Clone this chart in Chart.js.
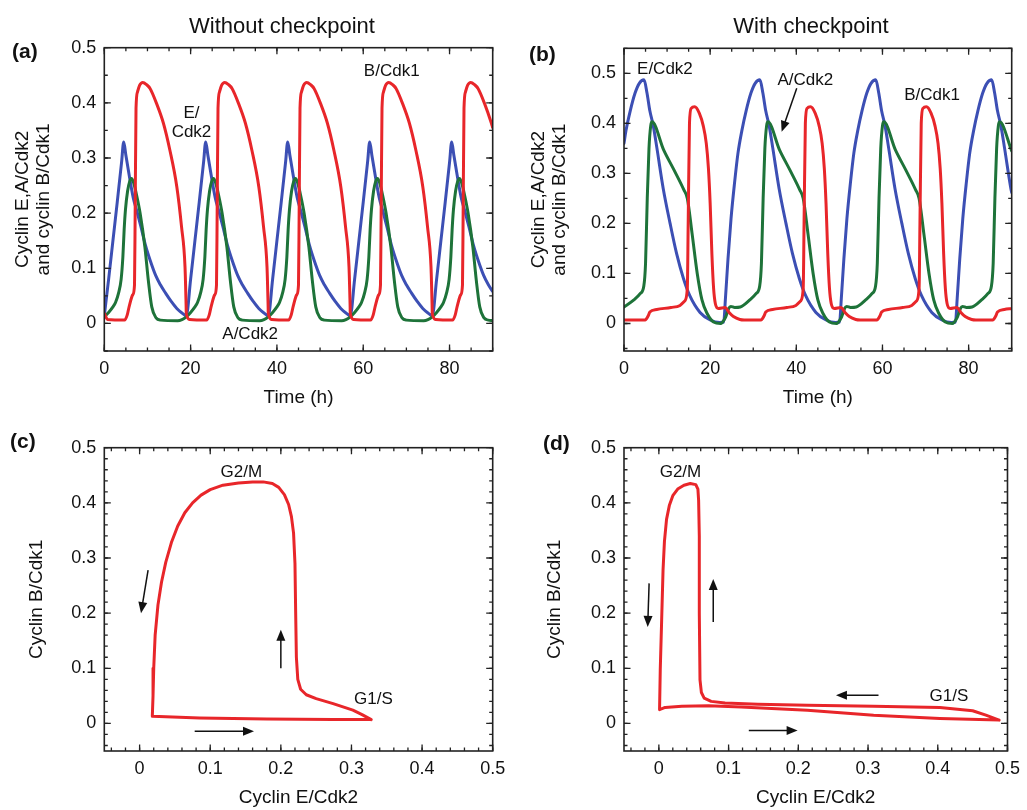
<!DOCTYPE html>
<html>
<head>
<meta charset="utf-8">
<title>Cyclin oscillations with and without checkpoint</title>
<script src="https://cdn.jsdelivr.net/npm/chart.js@4.4.2/dist/chart.umd.min.js"></script>
<style>
  body { margin: 0; background: #fff; width: 1027px; height: 810px; position: relative; overflow: hidden; }
  canvas { position: absolute; }
</style>
</head>
<body>
<canvas id="chartA" width="513" height="410" style="left:0;top:0"></canvas>
<canvas id="chartB" width="514" height="410" style="left:513px;top:0"></canvas>
<canvas id="chartC" width="513" height="395" style="left:0;top:415px"></canvas>
<canvas id="chartD" width="514" height="395" style="left:513px;top:415px"></canvas>
<script>
// (a) without checkpoint: [time (h), level]
const aCyclinE = [
  [0,0.014],[1,0.08],[2,0.15],[3,0.22],[4,0.292],[4.5,0.329],[5,0.305],[5.7,0.272],[6.7,0.228],[7.5,0.205],[8.5,0.175],[9.6,0.14],[10.6,0.115],[11.9,0.087],[13,0.07],[14.2,0.055],[15.5,0.04],[16.8,0.027],[18,0.019],
  [19,0.014],[20,0.08],[21,0.15],[22,0.22],[23,0.292],[23.5,0.329],[24,0.305],[24.7,0.272],[25.7,0.228],[26.5,0.205],[27.5,0.175],[28.6,0.14],[29.6,0.115],[30.9,0.087],[32,0.07],[33.2,0.055],[34.5,0.04],[35.8,0.027],[37,0.019],
  [38,0.014],[39,0.08],[40,0.15],[41,0.22],[42,0.292],[42.5,0.329],[43,0.305],[43.7,0.272],[44.7,0.228],[45.5,0.205],[46.5,0.175],[47.6,0.14],[48.6,0.115],[49.9,0.087],[51,0.07],[52.2,0.055],[53.5,0.04],[54.8,0.027],[56,0.019],
  [57,0.014],[58,0.08],[59,0.15],[60,0.22],[61,0.292],[61.5,0.329],[62,0.305],[62.7,0.272],[63.7,0.228],[64.5,0.205],[65.5,0.175],[66.6,0.14],[67.6,0.115],[68.9,0.087],[70,0.07],[71.2,0.055],[72.5,0.04],[73.8,0.027],[75,0.019],
  [76,0.014],[77,0.08],[78,0.15],[79,0.22],[80,0.292],[80.5,0.329],[81,0.305],[81.7,0.272],[82.7,0.228],[83.5,0.205],[84.5,0.175],[85.6,0.14],[86.6,0.115],[87.9,0.087],[89,0.07],[90,0.058]
];
const aCyclinA = [
  [0,0.012],[1,0.02],[2,0.03],[2.6,0.038],[3.3,0.055],[3.9,0.08],[4.3,0.12],[4.6,0.17],[4.9,0.206],[5.4,0.24],[5.9,0.258],[6.3,0.263],[6.8,0.255],[7.5,0.232],[8.3,0.2],[9.4,0.139],[10.2,0.078],[11,0.03],[12,0.01],[13,0.006],[17,0.005],[18,0.007],
  [19,0.012],[20,0.02],[21,0.03],[21.6,0.038],[22.3,0.055],[22.9,0.08],[23.3,0.12],[23.6,0.17],[23.9,0.206],[24.4,0.24],[24.9,0.258],[25.3,0.263],[25.8,0.255],[26.5,0.232],[27.3,0.2],[28.4,0.139],[29.2,0.078],[30,0.03],[31,0.01],[32,0.006],[36,0.005],[37,0.007],
  [38,0.012],[39,0.02],[40,0.03],[40.6,0.038],[41.3,0.055],[41.9,0.08],[42.3,0.12],[42.6,0.17],[42.9,0.206],[43.4,0.24],[43.9,0.258],[44.3,0.263],[44.8,0.255],[45.5,0.232],[46.3,0.2],[47.4,0.139],[48.2,0.078],[49,0.03],[50,0.01],[51,0.006],[55,0.005],[56,0.007],
  [57,0.012],[58,0.02],[59,0.03],[59.6,0.038],[60.3,0.055],[60.9,0.08],[61.3,0.12],[61.6,0.17],[61.9,0.206],[62.4,0.24],[62.9,0.258],[63.3,0.263],[63.8,0.255],[64.5,0.232],[65.3,0.2],[66.4,0.139],[67.2,0.078],[68,0.03],[69,0.01],[70,0.006],[74,0.005],[75,0.007],
  [76,0.012],[77,0.02],[78,0.03],[78.6,0.038],[79.3,0.055],[79.9,0.08],[80.3,0.12],[80.6,0.17],[80.9,0.206],[81.4,0.24],[81.9,0.258],[82.3,0.263],[82.8,0.255],[83.5,0.232],[84.3,0.2],[85.4,0.139],[86.2,0.078],[87,0.03],[88,0.01],[89,0.006],[90,0.005]
];
const aCyclinB = [
  [0,0.018],[0.8,0.007],[4.7,0.006],[5.3,0.015],[5.8,0.032],[6.6,0.052],[7,0.07],[7.15,0.2],[7.35,0.39],[7.7,0.42],[8.2,0.432],[8.9,0.437],[9.8,0.433],[10.6,0.426],[12.1,0.399],[13.7,0.363],[15.2,0.314],[16.8,0.248],[17.9,0.175],[18.7,0.103],[18.95,0.035],
  [19,0.018],[19.8,0.007],[23.7,0.006],[24.3,0.015],[24.8,0.032],[25.6,0.052],[26,0.07],[26.15,0.2],[26.35,0.39],[26.7,0.42],[27.2,0.432],[27.9,0.437],[28.8,0.433],[29.6,0.426],[31.1,0.399],[32.7,0.363],[34.2,0.314],[35.8,0.248],[36.9,0.175],[37.7,0.103],[37.95,0.035],
  [38,0.018],[38.8,0.007],[42.7,0.006],[43.3,0.015],[43.8,0.032],[44.6,0.052],[45,0.07],[45.15,0.2],[45.35,0.39],[45.7,0.42],[46.2,0.432],[46.9,0.437],[47.8,0.433],[48.6,0.426],[50.1,0.399],[51.7,0.363],[53.2,0.314],[54.8,0.248],[55.9,0.175],[56.7,0.103],[56.95,0.035],
  [57,0.018],[57.8,0.007],[61.7,0.006],[62.3,0.015],[62.8,0.032],[63.6,0.052],[64,0.07],[64.15,0.2],[64.35,0.39],[64.7,0.42],[65.2,0.432],[65.9,0.437],[66.8,0.433],[67.6,0.426],[69.1,0.399],[70.7,0.363],[72.2,0.314],[73.8,0.248],[74.9,0.175],[75.7,0.103],[75.95,0.035],
  [76,0.018],[76.8,0.007],[80.7,0.006],[81.3,0.015],[81.8,0.032],[82.6,0.052],[83,0.07],[83.15,0.2],[83.35,0.39],[83.7,0.42],[84.2,0.432],[84.9,0.437],[85.8,0.433],[86.6,0.426],[88.1,0.399],[89.7,0.363],[90,0.355]
];

// (b) with checkpoint: [time (h), level]
const bCyclinE = [
  [0,0.36],[0.45,0.385],[1.45,0.425],[2.55,0.46],[3.55,0.48],[4.65,0.487],[5.35,0.46],[6,0.425],[6.8,0.395],[7.65,0.35],[9.1,0.27],[10.7,0.2],[12.2,0.14],[13.8,0.09],[15.3,0.055],[17.65,0.022],[20,0.007],[22.25,0.002],
  [23.15,0.003],[23.55,0.05],[24.15,0.13],[24.85,0.21],[25.65,0.28],[26.45,0.34],[27.35,0.385],[28.35,0.425],[29.45,0.46],[30.45,0.48],[31.55,0.487],[32.25,0.46],[32.9,0.425],[33.7,0.395],[34.55,0.35],[36,0.27],[37.6,0.2],[39.1,0.14],[40.7,0.09],[42.2,0.055],[44.55,0.022],[46.9,0.007],[49.15,0.002],
  [50.05,0.003],[50.45,0.05],[51.05,0.13],[51.75,0.21],[52.55,0.28],[53.35,0.34],[54.25,0.385],[55.25,0.425],[56.35,0.46],[57.35,0.48],[58.45,0.487],[59.15,0.46],[59.8,0.425],[60.6,0.395],[61.45,0.35],[62.9,0.27],[64.5,0.2],[66,0.14],[67.6,0.09],[69.1,0.055],[71.45,0.022],[73.8,0.007],[76.05,0.002],
  [76.95,0.003],[77.35,0.05],[77.95,0.13],[78.65,0.21],[79.45,0.28],[80.25,0.34],[81.15,0.385],[82.15,0.425],[83.25,0.46],[84.25,0.48],[85.35,0.487],[86.05,0.46],[86.7,0.425],[87.5,0.395],[88.35,0.35],[89.8,0.27],[90,0.262]
];
const bCyclinA = [
  [0,0.033],[2.3,0.047],[3.8,0.06],[4.6,0.075],[5,0.12],[5.4,0.25],[5.8,0.35],[6.2,0.395],[6.5,0.403],[9.2,0.347],[11.6,0.307],[13.9,0.267],[14.7,0.25],[15.8,0.18],[17,0.1],[18.1,0.047],[19.3,0.02],[20.8,0.003],[22.4,0],[23.6,0.013],[24.3,0.03],[24.8,0.034],[25.7,0.032],
  [27,0.033],[29.2,0.047],[30.7,0.06],[31.5,0.075],[31.9,0.12],[32.3,0.25],[32.7,0.35],[33.1,0.395],[33.4,0.403],[36.1,0.347],[38.5,0.307],[40.8,0.267],[41.6,0.25],[42.7,0.18],[43.9,0.1],[45,0.047],[46.2,0.02],[47.7,0.003],[49.3,0],[50.5,0.013],[51.2,0.03],[51.7,0.034],[52.6,0.032],
  [53.9,0.033],[56.1,0.047],[57.6,0.06],[58.4,0.075],[58.8,0.12],[59.2,0.25],[59.6,0.35],[60,0.395],[60.3,0.403],[63,0.347],[65.4,0.307],[67.7,0.267],[68.5,0.25],[69.6,0.18],[70.8,0.1],[71.9,0.047],[73.1,0.02],[74.6,0.003],[76.2,0],[77.4,0.013],[78.1,0.03],[78.6,0.034],[79.5,0.032],
  [80.8,0.033],[83,0.047],[84.5,0.06],[85.3,0.075],[85.7,0.12],[86.1,0.25],[86.5,0.35],[86.9,0.395],[87.2,0.403],[90,0.345]
];
const bCyclinB = [
  [0,0.007],[4.9,0.007],[5.6,0.015],[6,0.023],[7.6,0.028],[10.9,0.032],[13,0.036],[14.1,0.045],[14.7,0.07],[14.9,0.2],[15.2,0.4],[15.6,0.43],[16.4,0.433],[17.5,0.42],[18.4,0.395],[19.1,0.36],[19.6,0.31],[20,0.24],[20.4,0.14],[20.8,0.07],[21.2,0.04],[21.9,0.03],[23.5,0.032],[24.4,0.022],[25.4,0.014],[26.9,0.008],[27.9,0.007],
  [31.8,0.007],[32.5,0.015],[32.9,0.023],[34.5,0.028],[37.8,0.032],[39.9,0.036],[41,0.045],[41.6,0.07],[41.8,0.2],[42.1,0.4],[42.5,0.43],[43.3,0.433],[44.4,0.42],[45.3,0.395],[46,0.36],[46.5,0.31],[46.9,0.24],[47.3,0.14],[47.7,0.07],[48.1,0.04],[48.8,0.03],[50.4,0.032],[51.3,0.022],[52.3,0.014],[53.8,0.008],[54.8,0.007],
  [58.7,0.007],[59.4,0.015],[59.8,0.023],[61.4,0.028],[64.7,0.032],[66.8,0.036],[67.9,0.045],[68.5,0.07],[68.7,0.2],[69,0.4],[69.4,0.43],[70.2,0.433],[71.3,0.42],[72.2,0.395],[72.9,0.36],[73.4,0.31],[73.8,0.24],[74.2,0.14],[74.6,0.07],[75,0.04],[75.7,0.03],[77.3,0.032],[78.2,0.022],[79.2,0.014],[80.7,0.008],[81.7,0.007],
  [85.6,0.007],[86.3,0.015],[86.7,0.023],[88.3,0.028],[90,0.03]
];

// (c), (d) phase plane: [cyclin E/Cdk2, cyclin B/Cdk1]
const cLoop = [
  [0.328,0.007],[0.315,0.016],[0.302,0.024],[0.274,0.036],[0.25,0.045],[0.236,0.052],[0.228,0.062],[0.224,0.08],[0.222,0.12],[0.221,0.2],[0.22,0.29],[0.218,0.345],[0.215,0.375],[0.211,0.397],[0.205,0.415],[0.197,0.428],[0.188,0.435],[0.175,0.438],[0.16,0.438],[0.14,0.436],[0.118,0.432],[0.1,0.424],[0.087,0.414],[0.075,0.4],[0.064,0.382],[0.054,0.358],[0.045,0.328],[0.037,0.292],[0.031,0.256],[0.026,0.215],[0.022,0.16],[0.02,0.1],[0.019,0.05],[0.018,0.013],[0.085,0.01],[0.18,0.008],[0.274,0.007],[0.328,0.007]
];
const dLoop = [
  [0.488,0.006],[0.469,0.015],[0.45,0.023],[0.403,0.029],[0.308,0.031],[0.213,0.033],[0.142,0.035],[0.095,0.037],[0.075,0.04],[0.065,0.046],[0.061,0.056],[0.059,0.079],[0.058,0.2],[0.058,0.34],[0.057,0.405],[0.056,0.425],[0.053,0.433],[0.045,0.435],[0.036,0.432],[0.027,0.425],[0.02,0.413],[0.015,0.395],[0.011,0.37],[0.008,0.33],[0.006,0.278],[0.004,0.187],[0.002,0.097],[0.001,0.025],[0.009,0.029],[0.033,0.031],[0.071,0.032],[0.118,0.03],[0.213,0.024],[0.308,0.015],[0.403,0.009],[0.488,0.006]
];

const timeTicks = [0, 20, 40, 60, 80];
const levelTicks = [0, 0.1, 0.2, 0.3, 0.4, 0.5];

const RED = '#e8262a';
const BLUE = '#3c4fb4';
const GREEN = '#1e7339';
const FONT = "'Liberation Sans', Arial, Helvetica, sans-serif";

Chart.defaults.font.family = FONT;
Chart.defaults.color = '#111';

// frame with inward ticks on all sides, labels, arrows, titles
const panelDecor = {
  id: 'panelDecor',
  afterDatasetsDraw(chart, args, opts) {
    const { ctx, chartArea: a } = chart;
    const x = chart.scales.x, y = chart.scales.y;
    ctx.save();
    ctx.strokeStyle = '#222';
    ctx.lineWidth = 1.6;
    ctx.strokeRect(a.left, a.top, a.right - a.left, a.bottom - a.top);

    ctx.lineWidth = 1.3;
    const marks = (scale, step, len, horiz) => {
      const first = Math.ceil(scale.min / step - 1e-6);
      for (let i = first; i * step <= scale.max + 1e-6; i++) {
        const p = scale.getPixelForValue(i * step);
        ctx.beginPath();
        if (horiz) {
          ctx.moveTo(p, a.bottom); ctx.lineTo(p, a.bottom - len);
          ctx.moveTo(p, a.top); ctx.lineTo(p, a.top + len);
        } else {
          ctx.moveTo(a.left, p); ctx.lineTo(a.left + len, p);
          ctx.moveTo(a.right, p); ctx.lineTo(a.right - len, p);
        }
        ctx.stroke();
      }
    };
    marks(x, opts.xMinor, 3.5, true);
    marks(x, opts.xMajor, 6.5, true);
    marks(y, opts.yMinor, 3.5, false);
    marks(y, opts.yMajor, 6.5, false);

    ctx.fillStyle = '#111';
    ctx.textAlign = 'center';
    ctx.textBaseline = 'middle';
    ctx.font = '17px ' + FONT;
    (opts.notes || []).forEach(n => {
      ctx.fillText(n.text, x.getPixelForValue(n.x), y.getPixelForValue(n.y));
    });

    (opts.arrows || []).forEach(ar => {
      const x1 = x.getPixelForValue(ar[0]), y1 = y.getPixelForValue(ar[1]);
      const x2 = x.getPixelForValue(ar[2]), y2 = y.getPixelForValue(ar[3]);
      const ang = Math.atan2(y2 - y1, x2 - x1);
      const hl = 11, hw = 4.5;
      ctx.strokeStyle = '#111';
      ctx.lineWidth = 1.5;
      ctx.beginPath();
      ctx.moveTo(x1, y1);
      ctx.lineTo(x2 - Math.cos(ang) * hl * 0.8, y2 - Math.sin(ang) * hl * 0.8);
      ctx.stroke();
      ctx.beginPath();
      ctx.moveTo(x2, y2);
      ctx.lineTo(x2 - Math.cos(ang) * hl - Math.sin(ang) * hw, y2 - Math.sin(ang) * hl + Math.cos(ang) * hw);
      ctx.lineTo(x2 - Math.cos(ang) * hl + Math.sin(ang) * hw, y2 - Math.sin(ang) * hl - Math.cos(ang) * hw);
      ctx.closePath();
      ctx.fill();
    });

    if (opts.title) {
      ctx.font = '22px ' + FONT;
      ctx.fillText(opts.title, opts.titleX, opts.titleY);
    }
    ctx.textAlign = 'left';
    ctx.font = 'bold 21px ' + FONT;
    ctx.fillText(opts.tag, opts.tagX, opts.tagY);
    ctx.restore();
  }
};

const fmt = v => String(Math.round(v * 100) / 100);

function makePanel(id, cfg) {
  return new Chart(document.getElementById(id), {
    type: 'scatter',
    data: {
      datasets: cfg.series.map(s => ({
        data: s.points.map(p => ({ x: p[0], y: p[1] })),
        showLine: true,
        borderColor: s.color,
        borderWidth: 3,
        pointRadius: 0,
        fill: false,
        tension: 0,
        cubicInterpolationMode: cfg.loop ? 'default' : 'monotone',
        borderJoinStyle: 'round',
        borderCapStyle: 'round'
      }))
    },
    options: {
      responsive: false,
      animation: false,
      events: [],
      layout: { padding: cfg.padding },
      plugins: {
        legend: { display: false },
        tooltip: { enabled: false },
        panelDecor: cfg.decor
      },
      scales: {
        x: {
          type: 'linear',
          min: cfg.xRange[0],
          max: cfg.xRange[1],
          afterBuildTicks: s => { s.ticks = cfg.xTicks.map(v => ({ value: v })); },
          afterFit: s => { s.height = cfg.xHeight; },
          grid: { display: false, drawTicks: false },
          border: { display: false },
          ticks: { font: { size: 18 }, color: '#111', padding: 7, maxRotation: 0, callback: v => fmt(v) },
          title: { display: true, text: cfg.xTitle, font: { size: 19, lineHeight: 1.1 }, color: '#111', padding: { top: 0, bottom: 1.5 } }
        },
        y: {
          type: 'linear',
          min: cfg.yRange[0],
          max: cfg.yRange[1],
          afterBuildTicks: s => { s.ticks = levelTicks.map(v => ({ value: v })); },
          afterFit: s => { s.width = cfg.yWidth; },
          grid: { display: false, drawTicks: false },
          border: { display: false },
          ticks: { font: { size: 18 }, color: '#111', padding: 8, callback: v => fmt(v) },
          title: { display: true, text: cfg.yTitle, font: { size: 19, lineHeight: 1.1 }, color: '#111', padding: { top: cfg.yTitlePad, bottom: 0 } }
        }
      }
    },
    plugins: [panelDecor]
  });
}

const timeYTitle = ['Cyclin E,A/Cdk2', 'and cyclin B/Cdk1'];

makePanel('chartA', {
  series: [
    { points: aCyclinB, color: RED },
    { points: aCyclinA, color: GREEN },
    { points: aCyclinE, color: BLUE }
  ],
  padding: { left: 0, top: 47.7, right: 20.3, bottom: 0 },
  xRange: [0, 90], yRange: [-0.05, 0.5], xTicks: timeTicks,
  xHeight: 59, yWidth: 104.3, yTitlePad: 12.5,
  xTitle: 'Time (h)', yTitle: timeYTitle,
  decor: {
    xMajor: 20, xMinor: 5, yMajor: 0.1, yMinor: 0.05,
    title: 'Without checkpoint', titleX: 282, titleY: 27, tag: '(a)', tagX: 12, tagY: 52,
    notes: [
      { text: 'B/Cdk1', x: 66.6, y: 0.458 },
      { text: 'E/', x: 20.2, y: 0.381 },
      { text: 'Cdk2', x: 20.2, y: 0.347 },
      { text: 'A/Cdk2', x: 33.8, y: -0.02 }
    ]
  }
});

makePanel('chartB', {
  series: [
    { points: bCyclinB, color: RED },
    { points: bCyclinA, color: GREEN },
    { points: bCyclinE, color: BLUE }
  ],
  padding: { left: 0, top: 48.3, right: 15.3, bottom: 0 },
  xRange: [0, 90], yRange: [-0.055, 0.55], xTicks: timeTicks,
  xHeight: 59, yWidth: 111, yTitlePad: 15.5,
  xTitle: 'Time (h)', yTitle: timeYTitle,
  decor: {
    xMajor: 20, xMinor: 5, yMajor: 0.1, yMinor: 0.05,
    title: 'With checkpoint', titleX: 298, titleY: 27, tag: '(b)', tagX: 16, tagY: 55,
    notes: [
      { text: 'E/Cdk2', x: 9.5, y: 0.509 },
      { text: 'A/Cdk2', x: 42.1, y: 0.487 },
      { text: 'B/Cdk1', x: 71.5, y: 0.457 }
    ],
    arrows: [[40.1, 0.47, 36.6, 0.383]]
  }
});

makePanel('chartC', {
  series: [{ points: cLoop, color: RED }],
  loop: true,
  padding: { left: 0, top: 32.7, right: 20.3, bottom: 0 },
  xRange: [-0.05, 0.5], yRange: [-0.05, 0.5], xTicks: levelTicks,
  xHeight: 59, yWidth: 104.3, yTitlePad: 26,
  xTitle: 'Cyclin E/Cdk2', yTitle: 'Cyclin B/Cdk1',
  decor: {
    xMajor: 0.1, xMinor: 0.02, yMajor: 0.1, yMinor: 0.02,
    tag: '(c)', tagX: 10, tagY: 27,
    notes: [
      { text: 'G2/M', x: 0.144, y: 0.456 },
      { text: 'G1/S', x: 0.331, y: 0.0435 }
    ],
    arrows: [
      [0.012, 0.278, 0.002, 0.2],
      [0.2, 0.1, 0.2, 0.17],
      [0.078, -0.014, 0.162, -0.014]
    ]
  }
});

makePanel('chartD', {
  series: [{ points: dLoop, color: RED }],
  loop: true,
  padding: { left: 0, top: 32.7, right: 15.3, bottom: 0 },
  xRange: [-0.05, 0.5], yRange: [-0.05, 0.5], xTicks: levelTicks,
  xHeight: 59, yWidth: 111, yTitlePad: 31.5,
  xTitle: 'Cyclin E/Cdk2', yTitle: 'Cyclin B/Cdk1',
  decor: {
    xMajor: 0.1, xMinor: 0.02, yMajor: 0.1, yMinor: 0.02,
    tag: '(d)', tagX: 30, tagY: 29,
    notes: [
      { text: 'G2/M', x: 0.031, y: 0.455 },
      { text: 'G1/S', x: 0.416, y: 0.05 }
    ],
    arrows: [
      [-0.014, 0.254, -0.016, 0.175],
      [0.078, 0.184, 0.078, 0.262],
      [0.315, 0.051, 0.254, 0.051],
      [0.129, -0.013, 0.199, -0.013]
    ]
  }
});
</script>
</body>
</html>
